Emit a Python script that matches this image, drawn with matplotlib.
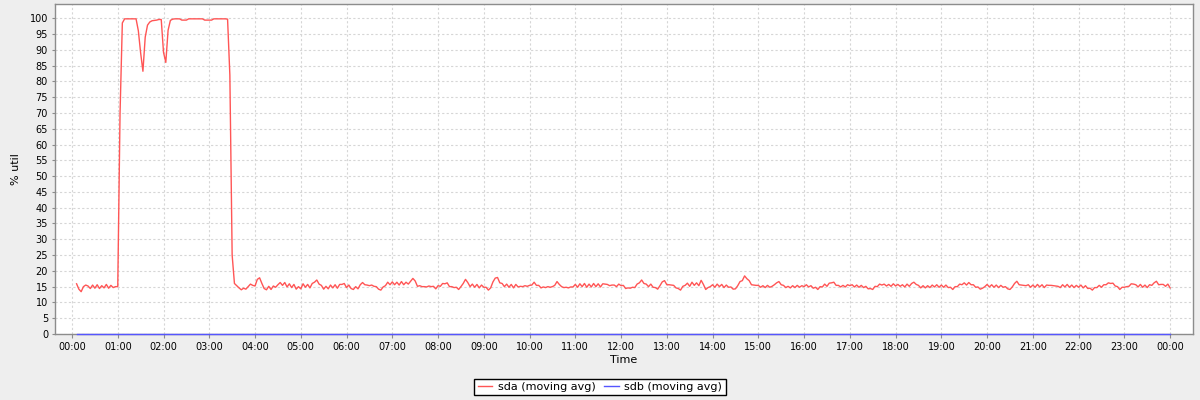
import matplotlib
matplotlib.use("Agg")
import matplotlib.pyplot as plt
import matplotlib.dates as mdates
import pandas as pd

# disk utilisation, one sample every 3 minutes from 00:06 to 24:00
start_time = "2000-01-01 00:06"
step = "3min"

# 00:06 - 00:57
sda_h00 = [15.9, 14.2, 13.4, 15.0, 15.5, 15.2, 14.4, 15.5, 14.5, 15.6, 14.4, 15.3, 14.6, 15.7, 14.5, 15.4, 14.7, 15.0]
sda_h01 = [15.0, 70.0, 98.5, 99.8, 99.8, 99.8, 99.8, 99.8, 99.8, 96.0, 89.0, 83.2, 94.0, 97.8, 98.8, 99.2, 99.3, 99.4, 99.6, 99.6]
sda_h02 = [89.2, 86.0, 96.2, 99.3, 99.7, 99.8, 99.8, 99.8, 99.4, 99.4, 99.4, 99.8, 99.8, 99.8, 99.8, 99.8, 99.8, 99.8, 99.4, 99.4]
sda_h03 = [99.4, 99.4, 99.8, 99.8, 99.8, 99.8, 99.8, 99.8, 99.7, 82.0, 25.0, 16.0, 15.3, 14.6, 14.0, 14.5, 14.2, 15.0, 15.8, 15.4]
sda_h04 = [15.2, 17.3, 17.8, 16.0, 14.4, 14.0, 15.1, 14.1, 15.2, 14.8, 15.6, 16.3, 15.4, 16.3, 14.9, 15.9, 14.7, 15.7, 14.2, 15.0]
sda_h05 = [14.3, 15.9, 14.8, 15.7, 14.6, 16.0, 16.4, 17.1, 15.8, 15.4, 14.2, 15.1, 14.3, 15.5, 14.6, 15.6, 14.5, 15.7, 15.7, 16.0]
sda_h06 = [14.7, 15.5, 14.4, 14.1, 15.0, 14.3, 15.6, 16.3, 15.6, 15.5, 15.3, 15.5, 15.1, 15.0, 14.2, 13.9, 14.9, 15.3, 16.4, 15.6]
sda_h07 = [16.5, 15.6, 16.4, 15.5, 16.6, 15.6, 16.4, 15.8, 16.7, 17.6, 16.8, 15.1, 15.3, 15.0, 15.0, 14.9, 15.2, 15.0, 15.1, 14.3]
sda_h08 = [15.3, 15.1, 16.0, 15.9, 16.2, 15.0, 15.0, 14.7, 14.8, 14.1, 15.0, 16.0, 17.3, 16.3, 15.0, 15.8, 14.8, 15.7, 14.6, 15.5]
sda_h09 = [14.8, 14.8, 13.9, 14.6, 16.5, 17.7, 17.9, 16.2, 16.0, 15.0, 15.8, 14.8, 15.7, 14.6, 15.7, 14.9, 15.1, 15.0, 15.3, 15.1]
sda_h10 = [15.4, 15.5, 16.4, 15.4, 15.4, 14.6, 14.9, 14.7, 15.0, 14.8, 15.0, 15.4, 16.6, 15.7, 15.0, 14.7, 14.8, 14.6, 14.9, 14.9]
sda_h11 = [15.7, 14.8, 15.9, 15.0, 16.0, 14.8, 15.8, 14.9, 16.0, 15.0, 15.9, 14.9, 15.9, 15.8, 15.7, 15.3, 15.5, 15.5, 15.0, 15.8]
sda_h12 = [15.3, 15.4, 14.4, 14.6, 14.5, 14.8, 14.7, 15.8, 16.2, 17.1, 16.0, 15.8, 15.0, 15.8, 14.8, 14.7, 14.2, 15.3, 16.5, 16.9]
sda_h13 = [15.6, 15.6, 15.5, 15.4, 14.6, 14.4, 13.9, 15.1, 15.4, 16.1, 15.1, 16.4, 15.4, 16.2, 15.3, 17.0, 15.7, 14.1, 14.7, 15.0]
sda_h14 = [15.6, 14.8, 15.8, 15.0, 15.7, 14.7, 15.5, 14.8, 14.9, 14.2, 14.3, 15.3, 16.6, 16.9, 18.4, 17.5, 16.9, 15.6, 15.5, 15.4]
sda_h15 = [15.4, 14.8, 15.3, 14.7, 15.4, 14.8, 15.1, 15.6, 16.2, 16.6, 15.6, 15.4, 14.7, 15.1, 14.6, 15.3, 14.7, 15.4, 14.8, 15.3]
sda_h16 = [15.0, 15.6, 14.9, 15.3, 14.5, 14.8, 14.1, 15.0, 14.9, 15.8, 15.1, 16.1, 16.2, 16.4, 15.4, 15.4, 14.9, 15.4, 14.9, 15.6]
sda_h17 = [15.3, 15.6, 14.9, 15.5, 14.8, 15.4, 14.7, 15.1, 14.3, 14.4, 14.1, 15.1, 15.0, 15.8, 15.5, 15.8, 15.2, 15.7, 15.1, 15.9]
sda_h18 = [15.2, 15.7, 15.1, 15.6, 14.9, 15.8, 15.1, 16.0, 16.4, 15.7, 15.4, 14.6, 15.3, 14.6, 15.3, 14.7, 15.5, 14.9, 15.6, 14.8]
sda_h19 = [15.5, 14.8, 15.5, 14.7, 14.8, 14.1, 15.0, 15.0, 15.8, 15.6, 16.2, 15.5, 16.3, 15.6, 15.6, 14.8, 14.9, 14.2, 14.5, 15.0]
sda_h20 = [15.7, 14.9, 15.6, 14.8, 15.5, 14.7, 15.4, 14.8, 15.0, 14.3, 14.1, 14.9, 16.0, 16.7, 15.6, 15.5, 15.4, 15.3, 15.6, 14.8]
sda_h21 = [15.5, 14.8, 15.7, 14.9, 15.6, 14.7, 15.5, 15.4, 15.4, 15.3, 15.2, 15.1, 14.7, 15.6, 14.9, 15.7, 14.8, 15.5, 14.7, 15.4]
sda_h22 = [14.8, 15.5, 14.6, 15.3, 14.4, 14.5, 13.9, 14.7, 14.7, 15.4, 14.8, 15.6, 15.6, 16.2, 16.0, 16.1, 15.2, 15.0, 14.1, 14.8]
sda_h23 = [14.8, 15.0, 15.1, 15.9, 15.8, 15.6, 14.9, 15.7, 14.8, 15.5, 14.7, 15.6, 15.4, 16.2, 16.7, 15.6, 15.7, 15.7, 15.1, 15.8]
sda_h24 = [14.6]

sda_util = (sda_h00 + sda_h01 + sda_h02 + sda_h03 + sda_h04 + sda_h05 + sda_h06 + sda_h07
            + sda_h08 + sda_h09 + sda_h10 + sda_h11 + sda_h12 + sda_h13 + sda_h14 + sda_h15
            + sda_h16 + sda_h17 + sda_h18 + sda_h19 + sda_h20 + sda_h21 + sda_h22 + sda_h23 + sda_h24)
# sdb sits flat on zero the whole day
sdb_util = [0.0] * len(sda_util)

series_names = ["sda (moving avg)", "sdb (moving avg)"]
series_colors = ["#ff5555", "#5555ff"]

times = pd.date_range(start_time, periods=len(sda_util), freq=step)
day_start = pd.Timestamp("2000-01-01 00:00")

fig = plt.figure(figsize=(12, 4), dpi=100, facecolor="#eeeeee")
ax = fig.add_axes([55 / 1200, 1 - 334 / 400, 1138 / 1200, 330 / 400])
ax.set_facecolor("white")

ax.plot(times, sdb_util, color=series_colors[1], lw=1, label=series_names[1], zorder=3, clip_on=False)
ax.plot(times, sda_util, color=series_colors[0], lw=1, label=series_names[0], zorder=4)

ax.set_xlim(day_start - pd.Timedelta(minutes=22.3), day_start + pd.Timedelta(hours=24.5))
ax.set_ylim(0, 104.5)
ax.set_yticks(range(0, 101, 5))
ax.xaxis.set_major_locator(mdates.HourLocator(interval=1))
ax.xaxis.set_major_formatter(mdates.DateFormatter("%H:%M"))

ax.grid(True, color="#d6d6d6", linestyle=(0, (2, 2)), lw=0.8)
ax.set_axisbelow(True)
for side in ["left", "bottom", "top", "right"]:
    ax.spines[side].set_color("#8c8c8c")
    ax.spines[side].set_linewidth(1)

ax.tick_params(axis="x", length=3, width=0.8, color="#8c8c8c", labelsize=7, pad=3)
ax.tick_params(axis="y", length=2, width=0.8, color="#8c8c8c", labelsize=7, pad=3)

ax.set_xlabel("Time", fontsize=8, labelpad=2)
ax.set_ylabel("% util", fontsize=8, labelpad=6)

# legend box below the chart, like the original
handles, labels = ax.get_legend_handles_labels()
leg = fig.legend(handles[::-1], labels[::-1], loc="center", bbox_to_anchor=(0.5, 1 - 387 / 400),
                 ncol=2, fontsize=8, frameon=True, fancybox=False, framealpha=1,
                 edgecolor="black", handlelength=1.3, handletextpad=0.5, columnspacing=0.8,
                 borderpad=0.3)
leg.get_frame().set_linewidth(1)

fig.savefig("out.png", dpi=100, facecolor=fig.get_facecolor())
